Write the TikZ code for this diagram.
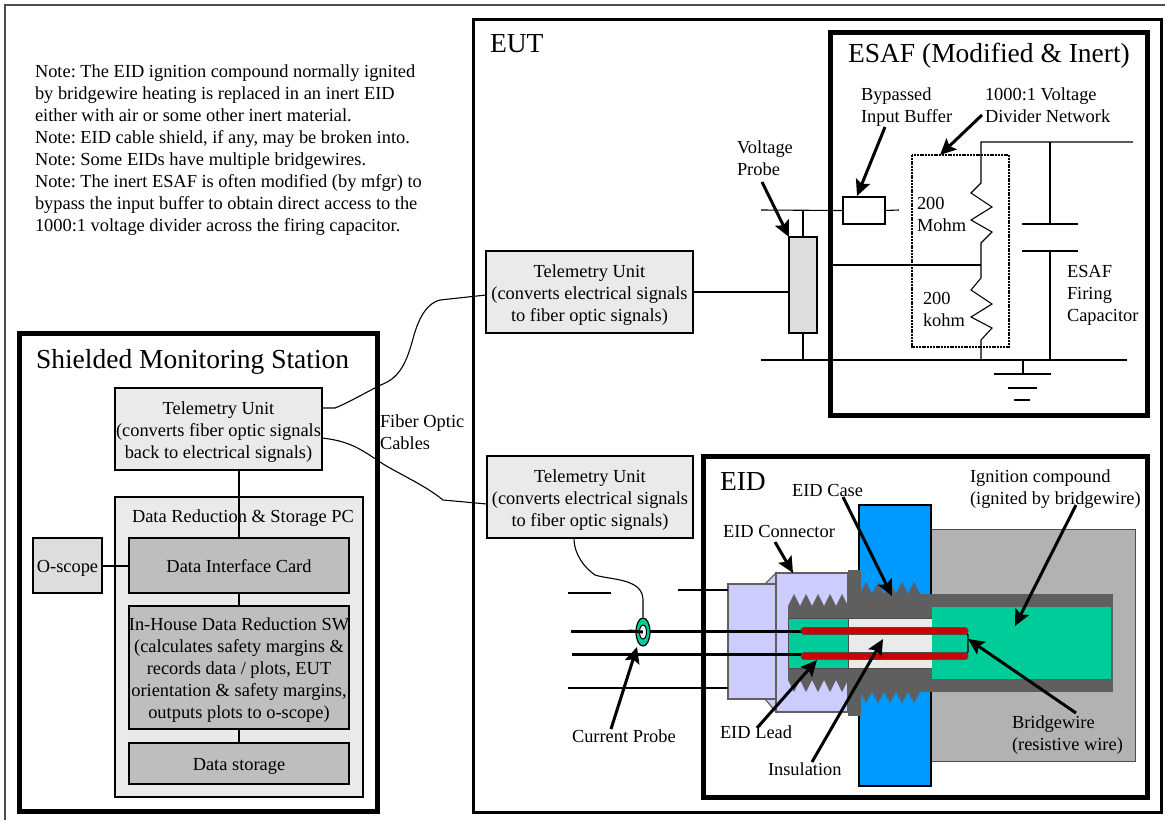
\documentclass[tikz,border=0pt]{standalone}
\usepackage{fontspec}
\setmainfont{Liberation Serif}
\frenchspacing
\usetikzlibrary{arrows.meta, shapes.geometric}
\definecolor{boxlight}{HTML}{EAEAEA}
\definecolor{boxmid}{HTML}{DDDDDD}
\definecolor{boxdark}{HTML}{BEBEBE}
\definecolor{casegray}{HTML}{5F5F5F}
\definecolor{bodygray}{HTML}{B2B2B2}
\definecolor{platebl}{HTML}{0099FF}
\definecolor{charge}{HTML}{00CC99}
\definecolor{lilac}{HTML}{CCCCFF}
\definecolor{wirered}{HTML}{CC0000}
\tikzset{
    heavyframe/.style={draw, line width=5, fill=none},
    unitbox/.style={draw, line width=1.3, outer sep=0, inner sep=0, align=center,
        font=\fontsize{18.4}{22}\selectfont, execute at begin node={\rule[-4pt]{0pt}{22pt}}},
    unittext/.style={inner sep=0, outer sep=0, yshift=-3, align=center,
        font=\fontsize{18.4}{22}\selectfont},
    lbl/.style={anchor=base west, inner sep=0, outer sep=0, align=left,
        font=\fontsize{18.4}{22}\selectfont},
    title/.style={anchor=base west, inner sep=0, outer sep=0, font=\fontsize{27.5}{30}\selectfont},
    wire/.style={line width=1.1},
    lead/.style={line width=3},
    callout/.style={line width=3, -{Stealth[length=16, width=15, inset=3]}}
}
\begin{document}
\begin{tikzpicture}[x=1pt, y=-1pt]
    \useasboundingbox (0,0) rectangle (1165,820);

    % Page rule and the three big enclosures
    \draw[black!70, line width=1.2] (5,820) -- (5,5) -- (1165,5);
    \draw[line width=3] (473,19) rectangle (1161,812);
    \draw[heavyframe] (19,333) rectangle (377,811);
    \draw[heavyframe] (830,32) rectangle (1147,415);
    \draw[heavyframe] (703,456) rectangle (1147,797);

    % Monitoring station boxes
    \node[unitbox, fill=boxlight, minimum width=248, minimum height=300] (pcBox) at (239,647) {};
    \node[unitbox, fill=boxlight, minimum width=207, minimum height=82] (teleStation) at (218.5,429) {};
    \node[unittext] (teleStationText) at (teleStation.center)
        {Telemetry Unit\\(converts fiber optic signals\\back to electrical signals)};
    \node[unitbox, fill=boxmid, minimum width=69, minimum height=55] (oscope) at (67.5,565.5) {O-scope};
    \node[unitbox, fill=boxdark, minimum width=220, minimum height=55] (cardBox) at (239,565.5) {Data Interface Card};
    \node[unitbox, fill=boxdark, minimum width=220, minimum height=123] (swBox) at (239,667.5) {};
    \node[unittext] (swText) at (swBox.center)
        {In-House Data Reduction SW\\(calculates safety margins \&\\records data / plots, EUT\\orientation \& safety margins,\\outputs plots to o-scope)};
    \node[unitbox, fill=boxdark, minimum width=220, minimum height=41] (storeBox) at (239,763.5) {Data storage};

    % Station wiring
    \draw[wire] (teleStation.south -| cardBox.north) -- (cardBox.north);
    \draw[wire] (cardBox.south) -- (swBox.north);
    \draw[wire] (swBox.south) -- (storeBox.north);
    \draw[line width=2] (oscope.east) -- (cardBox.west);

    % EUT telemetry units and voltage probe
    \node[unitbox, fill=boxlight, minimum width=207, minimum height=82] (teleUpper) at (589.5,292) {};
    \node[unittext] (teleUpperText) at (teleUpper.center)
        {Telemetry Unit\\(converts electrical signals\\to fiber optic signals)};
    \node[unitbox, fill=boxlight, minimum width=206, minimum height=82] (teleLower) at (590,497) {};
    \node[unittext] (teleLowerText) at (teleLower.center)
        {Telemetry Unit\\(converts electrical signals\\to fiber optic signals)};
    \node[unitbox, fill=boxmid, minimum width=28, minimum height=96] (voltProbe) at (803,285) {};
    \node[unitbox, fill=white, minimum width=42, minimum height=27] (bufferBox) at (864,210.5) {};

    % Fiber optic cables
    \coordinate (fiberA) at (322,408);
    \coordinate (fiberB) at (322,438);
    \coordinate (fiberC) at (486,295);
    \coordinate (fiberD) at (487,504);
    \draw[wire] (fiberA) -- (335,408) .. controls (350,402) and (368,391) .. (383,384)
        .. controls (400,377) and (407,362) .. (414,335) .. controls (420,315) and (428,303) .. (440,300) -- (fiberC);
    \draw[wire] (fiberB) .. controls (350,441) and (362,450) .. (380,462)
        .. controls (395,472) and (425,485) .. (443,500) -- (fiberD);

    % Signal rails
    \draw[wire] (761,210) -- (bufferBox.west) (bufferBox.east) -- (899,210);
    \draw[wire] (761,360) -- (1127,360);
    \draw[wire] (803,210) -- (voltProbe.north) (voltProbe.south) -- (803,360);
    \draw[wire] (teleUpper.east) -- (teleUpper.east -| voltProbe.west);
    \draw[wire] (832,265) -- (981,265);

    % Voltage divider
    \draw[wire] (1133,142) -- (981,142) -- (981,183) -- (971,193) -- (992,207) -- (971,220)
        -- (992,232) -- (981,243) -- (981,278) -- (971,290) -- (992,304) -- (971,317)
        -- (992,328) -- (981,340) -- (981,360);
    \draw[line width=2.6, dash pattern=on 2pt off 0.8pt] (912,155) rectangle (1009,347);

    % Firing capacitor and ground
    \draw[wire] (1050,142) -- (1050,224) (1022,224) -- (1078,224);
    \draw[wire] (1022,251) -- (1078,251) (1050,251) -- (1050,360);
    \draw[wire] (1023,360) -- (1023,374) (994,374) -- (1051,374) (1008,388) -- (1037,388) (1014,400) -- (1030,400);

    % EID body
    \draw[black!70, fill=bodygray, line width=1] (931,529) rectangle (1135,761);
    \draw[line width=1.3, fill=platebl] (859,505) rectangle (931,786);
    \draw[casegray, line width=1.2, fill=lilac] (765,584) -- (776,573) -- (776,712) -- (765,699) -- cycle;
    \draw[casegray, line width=1.2, fill=lilac] (728,584) rectangle (776,699);
    \draw[casegray, line width=1.2, fill=lilac] (776,573) rectangle (848,712);

    % Threaded case
    \fill[casegray] (848,570) rectangle (861,716);
    \fill[casegray] (788,606) rectangle (848,680);
    \fill[casegray] (848,594) rectangle (932,692);
    \fill[casegray] (920,594) rectangle (1113,692);
    \foreach \k in {0,...,4} {
        \fill[casegray] (788+12*\k,606) -- (794+12*\k,594) -- (800+12*\k,606) -- cycle;
        \fill[casegray] (788+12*\k,680) -- (794+12*\k,692) -- (800+12*\k,680) -- cycle;
        \fill[casegray] (860+12*\k,594) -- (866+12*\k,582) -- (872+12*\k,594) -- cycle;
        \fill[casegray] (860+12*\k,692) -- (866+12*\k,703) -- (872+12*\k,692) -- cycle;
    }
    \draw[black!70, line width=0.8, fill=charge] (788,618) rectangle (848,668);
    \draw[black!70, line width=0.8, fill=boxlight] (848,618) rectangle (932,668);
    \fill[charge] (932,607) rectangle (1111,679);

    % Outer wires and leads
    \draw[wire] (678,590) -- (728,590);
    \draw[wire] (568,593) -- (611,593);
    \draw[wire] (568,688) -- (728,688);
    \draw[lead] (571,631) -- (802,631);
    \draw[lead] (572,654) -- (802,654);

    % Bridgewire
    \draw[wire] (964,631) -- (968,635) -- (968,652) -- (964,656);
    \draw[black!70, line width=0.8, fill=wirered, rounded corners=3] (801,627.5) rectangle (968,634.5);
    \draw[black!70, line width=0.8, fill=wirered, rounded corners=3] (801,652.5) rectangle (968,659.5);

    % Current probe
    \node[draw, ellipse, line width=1.2, fill=charge, minimum width=14, minimum height=28, inner sep=0] (currentProbe) at (643,632) {};
    \node[draw, ellipse, line width=1, fill=white, minimum width=7, minimum height=14, inner sep=0] (probeHole) at (643,632) {};
    \draw[lead] (629,631) -- (probeHole.center);
    \coordinate (cableTop) at (574,538);
    \draw[wire] (cableTop) .. controls (574,555) and (585,568) .. (595,575)
        .. controls (610,580) and (643,578) .. (643,600) -- (currentProbe.north);

    % Titles and labels
    \node[title] (titleEUT) at (490,52) {EUT};
    \node[title] (titleESAF) at (848,62) {ESAF (Modified \& Inert)};
    \node[title] (titleStation) at (36,368) {Shielded Monitoring Station};
    \node[title] (titleEID) at (720,490) {EID};
    \node[lbl] (notes) at (35,231) {Note: The EID ignition compound normally ignited\\by bridgewire heating is replaced in an inert EID\\either with air or some other inert material.\\Note: EID cable shield, if any, may be broken into.\\Note: Some EIDs have multiple bridgewires.\\Note: The inert ESAF is often modified (by mfgr) to\\bypass the input buffer to obtain direct access to the\\1000:1 voltage divider across the firing capacitor.};
    \node[lbl] (pcLabel) at (132,522) {Data Reduction \& Storage PC};
    \node[lbl] (fiberLabel) at (380,449) {Fiber Optic\\Cables};
    \node[lbl] (voltLabel) at (737,175) {Voltage\\Probe};
    \node[lbl] (bufferLabel) at (861,122) {Bypassed\\Input Buffer};
    \node[lbl] (dividerLabel) at (985,122) {1000:1 Voltage\\Divider Network};
    \node[lbl] (mohmLabel) at (917,231) {200\\Mohm};
    \node[lbl] (kohmLabel) at (923,326) {200\\kohm};
    \node[lbl] (capLabel) at (1067,321) {ESAF\\Firing\\Capacitor};
    \node[lbl] (probeLabel) at (572,742) {Current Probe};
    \node[lbl] (connLabel) at (723,537) {EID Connector};
    \node[lbl] (caseLabel) at (792,496) {EID Case};
    \node[lbl] (igniteLabel) at (970,504) {Ignition compound\\(ignited by bridgewire)};
    \node[lbl] (bridgeLabel) at (1012,750) {Bridgewire\\(resistive wire)};
    \node[lbl] (leadLabel) at (720,738) {EID Lead};
    \node[lbl] (insulLabel) at (768,775) {Insulation};

    % Callout arrows
    \coordinate (voltTail) at (762,182);     \coordinate (voltTip) at (789,237);
    \coordinate (bufferTail) at (885,127);   \coordinate (bufferTip) at (857,196);
    \coordinate (dividerTail) at (982,115);  \coordinate (dividerTip) at (940,155);
    \coordinate (connTail) at (775,542);     \coordinate (connTip) at (793,573);
    \coordinate (caseTail) at (843,497);     \coordinate (caseTip) at (892,596);
    \coordinate (igniteTail) at (1076,505);  \coordinate (igniteTip) at (1015,626);
    \coordinate (bridgeTail) at (1076,713);  \coordinate (bridgeTip) at (968,639);
    \coordinate (leadTail) at (757,728);     \coordinate (leadTip) at (817,660);
    \coordinate (insulTail) at (812,762);    \coordinate (insulTip) at (883,639);
    \coordinate (probeTail) at (611,729);    \coordinate (probeTip) at (637,647);
    \foreach \a in {volt,buffer,divider,conn,case,ignite,bridge,lead,insul,probe}
        \draw[callout] (\a Tail) -- (\a Tip);
\end{tikzpicture}
\end{document}
